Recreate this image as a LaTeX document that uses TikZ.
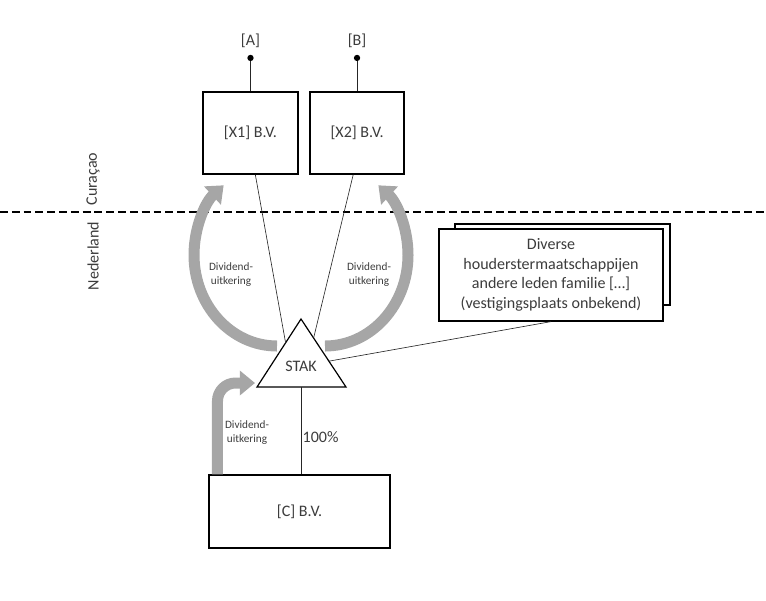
\documentclass[tikz,border=0pt]{standalone}
\usepackage{fontspec}
\setmainfont{Carlito}
\usetikzlibrary{arrows.meta, positioning, calc}
\definecolor{ArrowGrey}{RGB}{166,166,166}
\definecolor{TextGrey}{RGB}{60,60,60}

\begin{document}
\begin{tikzpicture}[
    x=0.025cm, y=-0.025cm,
    box/.style={rectangle, draw, line width=0.85pt, fill=white,
                font=\fontsize{11.4}{14}\selectfont, text=TextGrey, align=center, inner sep=2pt},
    tri/.style={draw, line width=0.85pt, fill=white, line join=miter},
    dot/.style={circle, fill=black, inner sep=0pt, minimum size=4.5pt},
    lbl/.style={font=\fontsize{11.4}{14}\selectfont, text=TextGrey},
    small/.style={font=\fontsize{8}{10}\selectfont, text=TextGrey, align=center},
    thin/.style={draw=black!85, line width=0.45pt},
    border/.style={black, line width=1.4pt, dash pattern=on 5.6pt off 2.8pt},
    divarr/.style={ArrowGrey, line width=0.275cm, -{Triangle[width=0.6cm, length=0.38cm]}}
  ]
    \useasboundingbox (0,0) rectangle (766,600);

    % grens Curacao / Nederland
    \draw[border] (0,212) -- (766,212);
    \node[lbl, rotate=90] (cur) at (93,179) {Curaçao};
    \node[lbl, rotate=90] (ned) at (93,256) {Nederland};

    \node[box, minimum width=2.375cm, minimum height=2.05cm] (x1) at (250.5,133) {[X1] B.V.};
    \node[box, minimum width=2.35cm, minimum height=2.05cm, right=0.27cm of x1] (x2) {[X2] B.V.};
    \node[dot, above=0.75cm of x1.north] (dota) {};
    \node[dot, above=0.75cm of x2.north] (dotb) {};
    \node[lbl, above=0.5mm of dota] (la) {[A]};
    \node[lbl, above=0.5mm of dotb] (lb) {[B]};
    \draw[thin] (dota) -- (x1.north);
    \draw[thin] (dotb) -- (x2.north);

    \node[box, minimum width=5.375cm, minimum height=2.025cm] (divback) at (562.5,264.5) {};
    \node[box, minimum width=5.6cm, minimum height=2.3cm] (div) at (551,275)
      {Diverse\\houderstermaatschappijen\\andere leden familie […]\\(vestigingsplaats onbekend)};

    \node[box, minimum width=4.525cm, minimum height=1.825cm] (cbv) at (299.5,511.5) {[C] B.V.};

    % STAK
    \coordinate (stakT) at (301,319);
    \coordinate (stakL) at (257,387);
    \coordinate (stakR) at (346,387);
    \coordinate (stakB) at (301,387);
    \draw[tri] (stakT) -- (stakL) -- (stakR) -- cycle;
    \node[lbl] (stak) at (301,366) {STAK};

    \draw[thin] ($(x1.south west)!0.55!(x1.south east)$) -- ($(stakT)!0.35!(stakL)$);
    \draw[thin] ($(x2.south west)!0.46!(x2.south east)$) -- ($(stakT)!0.28!(stakR)$);
    \draw[thin] ($(stakT)!0.62!(stakR)$) -- (div.south);
    \draw[thin] (stakB) -- node[lbl, right, pos=0.57, inner sep=1pt] {100\%} (stakB |- cbv.north);

    % dividendstromen
    \coordinate (arcl) at (277,346);
    \coordinate (arcr) at (325,346);
    \coordinate (tipc) at (255,383);
    \draw[divarr] (arcl) arc[start angle=90, end angle=230, x radius=83, y radius=91];
    \draw[divarr] (arcr) arc[start angle=90, end angle=-50, x radius=83, y radius=91];
    \draw[divarr, rounded corners=0.45cm] ($(cbv.north west)!0.05!(cbv.north east)$) |- (tipc);

    \node[small] (divl) at (231,275) {Dividend-\\uitkering};
    \node[small] (divr) at (369,275) {Dividend-\\uitkering};
    \node[small] (divc) at (247,433) {Dividend-\\uitkering};
  \end{tikzpicture}
\end{document}
